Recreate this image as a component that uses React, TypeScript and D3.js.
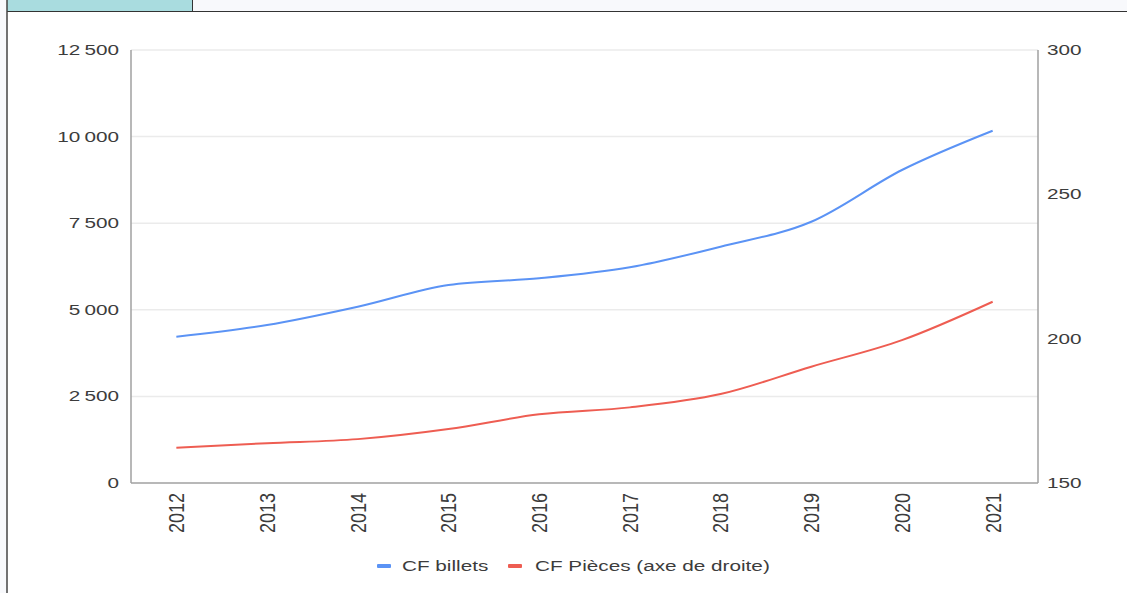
import React, { useEffect, useRef } from "react";
import * as d3 from "d3";

const years = ["2012", "2013", "2014", "2015", "2016", "2017", "2018", "2019", "2020", "2021"];
const billets = [4223, 4561, 5090, 5716, 5909, 6227, 6822, 7543, 9036, 10170];
const pieces = [162.2, 163.8, 165.2, 168.7, 173.8, 176.2, 180.8, 190.3, 199.5, 212.8];
const leftTicks = [0, 2500, 5000, 7500, 10000, 12500];
const rightTicks = [150, 200, 250, 300];
const seriesNames = ["CF billets", "CF Pièces (axe de droite)"];
const seriesColors = ["#5b93f5", "#ee5d52"];

const W = 1127;
const H = 593;
const SX = 1.48;

export default function App() {
  const ref = useRef<SVGSVGElement>(null);

  useEffect(() => {
    const svg = d3.select(ref.current);
    svg.selectAll("*").remove();
    const font = "'Liberation Sans', Arial, sans-serif";
    const txtColor = "#3c3c3c";

    // page frame
    svg.append("rect").attr("width", W).attr("height", H).attr("fill", "#f8f9fc");
    svg.append("rect").attr("x", 7).attr("y", 11).attr("width", W - 7).attr("height", H - 11).attr("fill", "#ffffff");
    svg.append("rect").attr("x", 7).attr("y", 0).attr("width", 185).attr("height", 11).attr("fill", "#a9dcdf");
    svg.append("line").attr("x1", 192.5).attr("x2", 192.5).attr("y1", 0).attr("y2", 11).attr("stroke", "#333").attr("stroke-width", 1);
    svg.append("line").attr("x1", 7).attr("x2", W).attr("y1", 11.5).attr("y2", 11.5).attr("stroke", "#333").attr("stroke-width", 1.2);
    svg.append("line").attr("x1", 7).attr("x2", 7).attr("y1", 0).attr("y2", H).attr("stroke", "#444").attr("stroke-width", 1.5);

    const left = 131, right = 1038, top = 50, bottom = 483;

    const x = d3.scaleBand<string>().domain(years).range([left, right]);
    const yL = d3.scaleLinear().domain([0, 12500]).range([bottom, top]);
    const yR = d3.scaleLinear().domain([150, 300]).range([bottom, top]);
    const cx = (d: string) => (x(d) as number) + x.bandwidth() / 2;

    // gridlines
    svg.append("g").selectAll("line").data(leftTicks.slice(1)).join("line")
      .attr("x1", left).attr("x2", right)
      .attr("y1", (d) => yL(d)).attr("y2", (d) => yL(d))
      .attr("stroke", "#ebebeb").attr("stroke-width", 1.5);

    // axis lines
    svg.append("line").attr("x1", left).attr("x2", left).attr("y1", top).attr("y2", bottom).attr("stroke", "#a0a0a0").attr("stroke-width", 1.5);
    svg.append("line").attr("x1", right).attr("x2", right).attr("y1", top).attr("y2", bottom).attr("stroke", "#a0a0a0").attr("stroke-width", 1.5);
    svg.append("line").attr("x1", left).attr("x2", right).attr("y1", bottom).attr("y2", bottom).attr("stroke", "#a0a0a0").attr("stroke-width", 1.5);

    const fmt = (v: number) => d3.format(",")(v).replace(/,/g, "\u2009");

    svg.append("g").selectAll("text").data(leftTicks).join("text")
      .attr("transform", (d) => `translate(119,${yL(d)}) scale(${SX},1)`)
      .attr("dy", "0.35em")
      .attr("text-anchor", "end").attr("font-family", font).attr("font-size", 14)
      .attr("fill", txtColor).text((d) => fmt(d));

    svg.append("g").selectAll("text").data(rightTicks).join("text")
      .attr("transform", (d) => `translate(1047,${yR(d)}) scale(${SX},1)`)
      .attr("dy", "0.35em")
      .attr("text-anchor", "start").attr("font-family", font).attr("font-size", 14)
      .attr("fill", txtColor).text((d) => String(d));

    svg.append("g").selectAll("text").data(years).join("text")
      .attr("transform", (d) => `translate(${cx(d)},${493}) scale(1.25,1) rotate(-90)`)
      .attr("dy", "0.35em")
      .attr("text-anchor", "end").attr("font-family", font).attr("font-size", 18)
      .attr("fill", txtColor).text((d) => d);

    const lineL = d3.line<number>().x((_, i) => cx(years[i])).y((d) => yL(d)).curve(d3.curveMonotoneX);
    const lineR = d3.line<number>().x((_, i) => cx(years[i])).y((d) => yR(d)).curve(d3.curveMonotoneX);

    svg.append("path").attr("d", lineL(billets) as string).attr("fill", "none")
      .attr("stroke", seriesColors[0]).attr("stroke-width", 2);
    svg.append("path").attr("d", lineR(pieces) as string).attr("fill", "none")
      .attr("stroke", seriesColors[1]).attr("stroke-width", 2);

    // legend
    const legendX = [377, 508];
    const textX = [402, 535];
    const lg = svg.append("g");
    seriesNames.forEach((name, i) => {
      lg.append("rect").attr("x", legendX[i]).attr("y", 564).attr("width", 14).attr("height", 4)
        .attr("rx", 1).attr("fill", seriesColors[i]);
      lg.append("text").attr("transform", `translate(${textX[i]},566) scale(${SX},1)`).attr("dy", "0.35em")
        .attr("font-family", font).attr("font-size", 14).attr("fill", txtColor).text(name);
    });
  }, []);

  return (
    <div style={{ position: "fixed", left: 0, top: 0, width: W, height: H }}>
      <svg ref={ref} width={W} height={H} style={{ display: "block" }} />
    </div>
  );
}
